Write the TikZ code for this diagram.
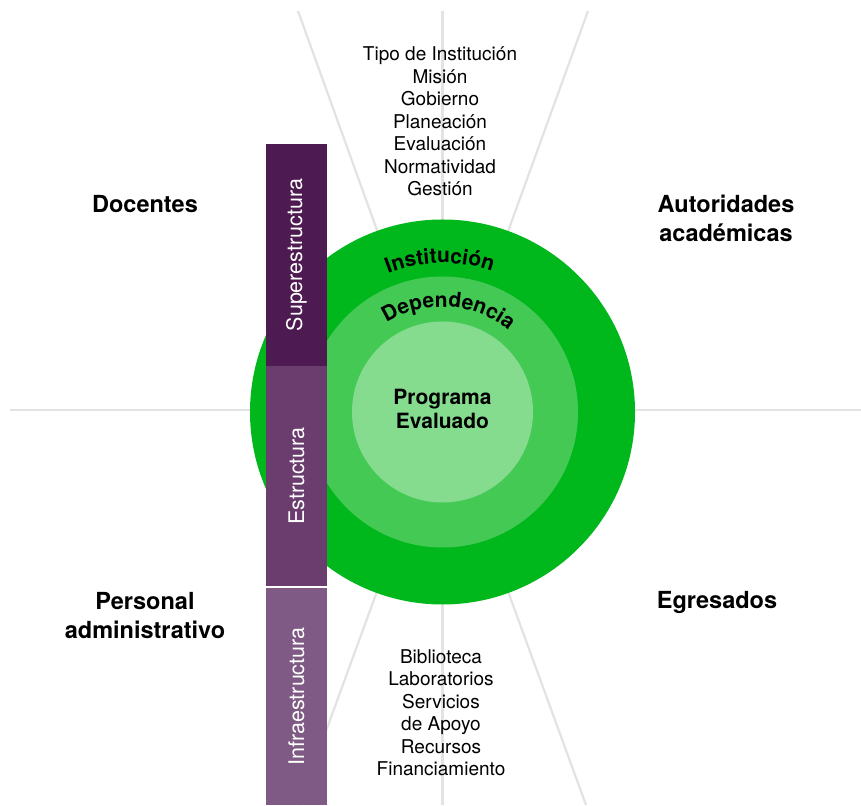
\documentclass[tikz,border=0pt]{standalone}
\usepackage{fontspec}
\setmainfont{TeX Gyre Heros}
\usetikzlibrary{decorations.text,calc}
\definecolor{gOuter}{HTML}{00B81C}
\definecolor{gMid}{HTML}{45C955}
\definecolor{gIn}{HTML}{86DC8E}
\definecolor{pSup}{HTML}{4E1A52}
\definecolor{pEst}{HTML}{6A3D6E}
\definecolor{pInf}{HTML}{7F5A84}
\definecolor{rayc}{HTML}{E3E3E3}
\begin{document}
\begin{tikzpicture}[x=1pt,y=1pt,
 ray/.style={draw=rayc, line width=2.2pt},
 ring/.style={circle, inner sep=0pt, draw=none},
 bar/.style={rotate=90, minimum height=61pt, inner sep=0pt, text=white, font=\fontsize{21.5}{24}\selectfont},
 listtxt/.style={align=center, font=\fontsize{19}{22.5}\selectfont},
 group/.style={align=center, font=\bfseries\fontsize{23.5}{29}\selectfont},
 core/.style={align=center, font=\bfseries\fontsize{21}{24}\selectfont}]
\useasboundingbox (0,0) rectangle (861,805);
\fill[white] (0,0) rectangle (861,805);
\coordinate (c) at (442.5,393);
\coordinate (hl) at (10,395);
\coordinate (hr) at (861,395);
\coordinate (vt) at (442.5,794);
\coordinate (vb) at (442.5,0);
\coordinate (tl) at (298,794);
\coordinate (tr) at (588,794);
\coordinate (bl) at (299,0);
\coordinate (br) at (586,0);
\draw[ray] (hl) -- (hr);
\draw[ray] (vt) -- (vb);
\draw[ray] (tl) -- (c) -- (br);
\draw[ray] (tr) -- (c) -- (bl);
\node[ring, fill=gOuter, minimum size=385pt] (outer) at (c) {};
\node[ring, fill=gMid, minimum size=271pt] (mid) at (c) {};
\node[ring, fill=gIn, minimum size=181pt] (inner) at (c) {};
\node[bar, fill=pSup, minimum width=222pt] (sup) at (296.5,550) {Superestructura};
\node[bar, fill=pEst, minimum width=220pt] (est) at (296.5,329) {Estructura};
\node[bar, fill=pInf, minimum width=217pt] (inf) at (296.5,108.5) {Infraestructura};
\path[decorate, decoration={text along path, text align=center, text={|\bfseries\fontsize{21}{21}\selectfont|Institución}}] ($(c)+(136:149)$) arc[start angle=136, end angle=46, radius=149];
\path[decorate, decoration={text along path, text align=center, text={|\bfseries\fontsize{21}{21}\selectfont|Dependencia}}] ($(c)+(150:105)$) arc[start angle=150, end angle=23, radius=105];
\node[core] (prog) at (442.5,396) {Programa\\Evaluado};
\node[listtxt] (toplist) at (440,683.5) {Tipo de Institución\\Misión\\Gobierno\\Planeación\\Evaluación\\Normatividad\\Gestión};
\node[listtxt] (botlist) at (441,92.5) {Biblioteca\\Laboratorios\\Servicios\\de Apoyo\\Recursos\\Financiamiento};
\node[group] (doc) at (145,601) {Docentes};
\node[group] (aut) at (726,587) {Autoridades\\académicas};
\node[group] (per) at (145,189) {Personal\\administrativo};
\node[group] (egr) at (717,203) {Egresados};
\end{tikzpicture}
\end{document}
